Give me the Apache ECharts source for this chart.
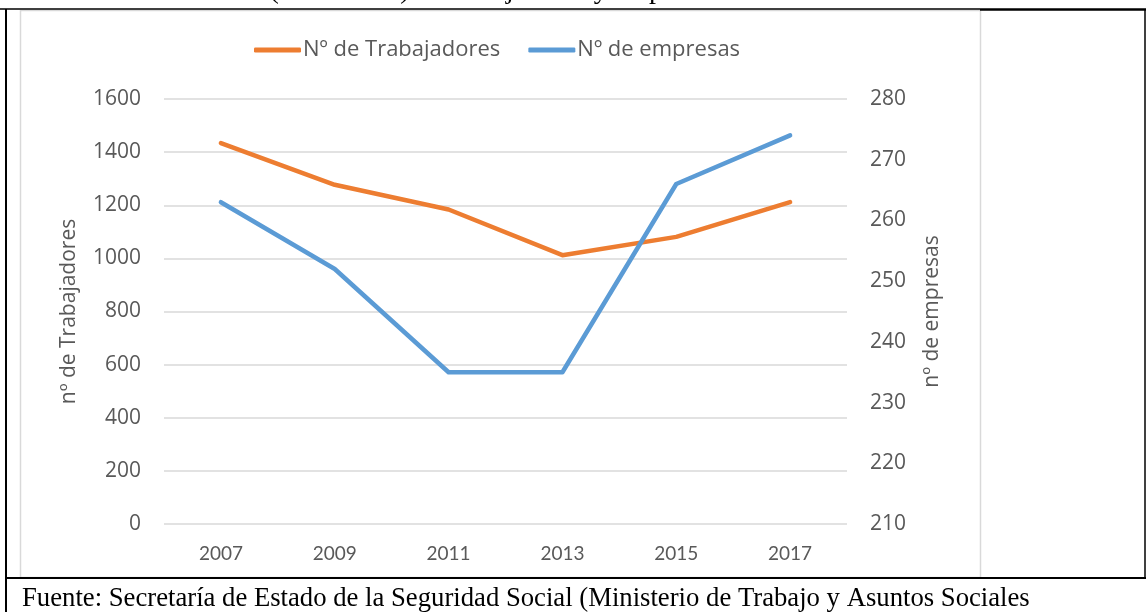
<!DOCTYPE html>
<html>
<head>
<meta charset="utf-8">
<script src="https://cdn.jsdelivr.net/npm/echarts@6/dist/echarts.min.js"></script>
<style>
  html, body { margin: 0; padding: 0; background: #fff; }
  #chart { width: 1146px; height: 612px; }
</style>
</head>
<body>
<div id="chart"></div>
<script>
// datos
const years = ['2007', '2009', '2011', '2013', '2015', '2017']
const trabajadores = [1434, 1277, 1184, 1012, 1081, 1212]
const empresas = [263, 252, 235, 235, 266, 274]

const tituloTxt = 'Gráfico 3. Evolución (2007-2017) de trabajadores y empresas en Casariche'
const fuenteTxt = 'Fuente: Secretaría de Estado de la Seguridad Social (Ministerio de Trabajo y Asuntos Sociales'

const labelFont = '"Open Sans", "Noto Sans", sans-serif'
const grey = '#595959'

const chart = echarts.init(document.getElementById('chart'), null, { renderer: 'canvas' })

const option = {
  animation: false,
  backgroundColor: '#fff',
  color: ['#ED7D31', '#5B9BD5'],
  graphic: [
    // marco del grafico
    { type: 'rect', z: -10, shape: { x: 20.5, y: 10.5, width: 960, height: 567 },
      style: { fill: '#fff', stroke: '#d9d9d9', lineWidth: 1.5 } },
    // bordes de la tabla
    { type: 'line', shape: { x1: 0, y1: 9, x2: 980, y2: 9 }, style: { stroke: '#000', lineWidth: 1.5 } },
    { type: 'line', shape: { x1: 980, y1: 9.5, x2: 1146, y2: 9.5 }, style: { stroke: '#000', lineWidth: 2.5 } },
    { type: 'line', shape: { x1: 6, y1: 9, x2: 6, y2: 612 }, style: { stroke: '#000', lineWidth: 2 } },
    { type: 'line', shape: { x1: 1145, y1: 9, x2: 1145, y2: 578 }, style: { stroke: '#000', lineWidth: 1.5 } },
    { type: 'line', shape: { x1: 6, y1: 578, x2: 1146, y2: 578 }, style: { stroke: '#000', lineWidth: 2 } },
    // titulo (cortado arriba) y fuente
    { type: 'text', x: 27, y: 5,
      style: { text: tituloTxt, font: '28px "Liberation Serif", serif', fill: '#000', verticalAlign: 'bottom' } },
    { type: 'text', x: 22, y: 612,
      style: { text: fuenteTxt, font: '26.7px "Liberation Serif", serif', fill: '#000', verticalAlign: 'bottom' } }
  ],
  legend: {
    top: 34,
    left: 249,
    itemWidth: 47,
    itemHeight: 5,
    itemGap: 28,
    icon: 'roundRect',
    textStyle: { color: grey, fontSize: 22, fontFamily: labelFont, padding: [0, 0, 0, -3] },
    data: ['Nº de Trabajadores', 'Nº de empresas']
  },
  grid: {
    left: 164,
    right: 299,
    top: 99,
    bottom: 88
  },
  xAxis: {
    type: 'category',
    data: years,
    boundaryGap: true,
    axisLine: { show: false },
    axisTick: { show: false },
    axisLabel: { color: grey, fontSize: 19, fontFamily: '"Liberation Sans Narrow", "Lato", sans-serif', margin: 20 }
  },
  yAxis: [
    {
      type: 'value',
      min: 0,
      max: 1600,
      interval: 200,
      name: 'nº de Trabajadores',
      nameLocation: 'middle',
      nameGap: 84,
      nameRotate: 90,
      nameTextStyle: { color: grey, fontSize: 21, fontFamily: labelFont },
      axisLine: { show: false },
      axisTick: { show: false },
      axisLabel: { color: grey, fontSize: 21, fontFamily: labelFont, margin: 23, formatter: (v) => String(v) },
      splitLine: { lineStyle: { color: '#d9d9d9', width: 1.5 } }
    },
    {
      type: 'value',
      min: 210,
      max: 280,
      interval: 10,
      position: 'right',
      name: 'nº de empresas',
      nameLocation: 'middle',
      nameGap: 75,
      nameRotate: 90,
      nameTextStyle: { color: grey, fontSize: 21, fontFamily: labelFont },
      axisLine: { show: false },
      axisTick: { show: false },
      axisLabel: { color: grey, fontSize: 21, fontFamily: labelFont, margin: 23, formatter: (v) => String(v) },
      splitLine: { show: false }
    }
  ],
  series: [
    {
      name: 'Nº de Trabajadores',
      type: 'line',
      yAxisIndex: 0,
      data: trabajadores,
      showSymbol: false,
      lineStyle: { width: 4.5, cap: 'round', join: 'round' }
    },
    {
      name: 'Nº de empresas',
      type: 'line',
      yAxisIndex: 1,
      data: empresas,
      showSymbol: false,
      lineStyle: { width: 4.5, cap: 'round', join: 'round' }
    }
  ]
}

chart.setOption(option)
</script>
</body>
</html>
